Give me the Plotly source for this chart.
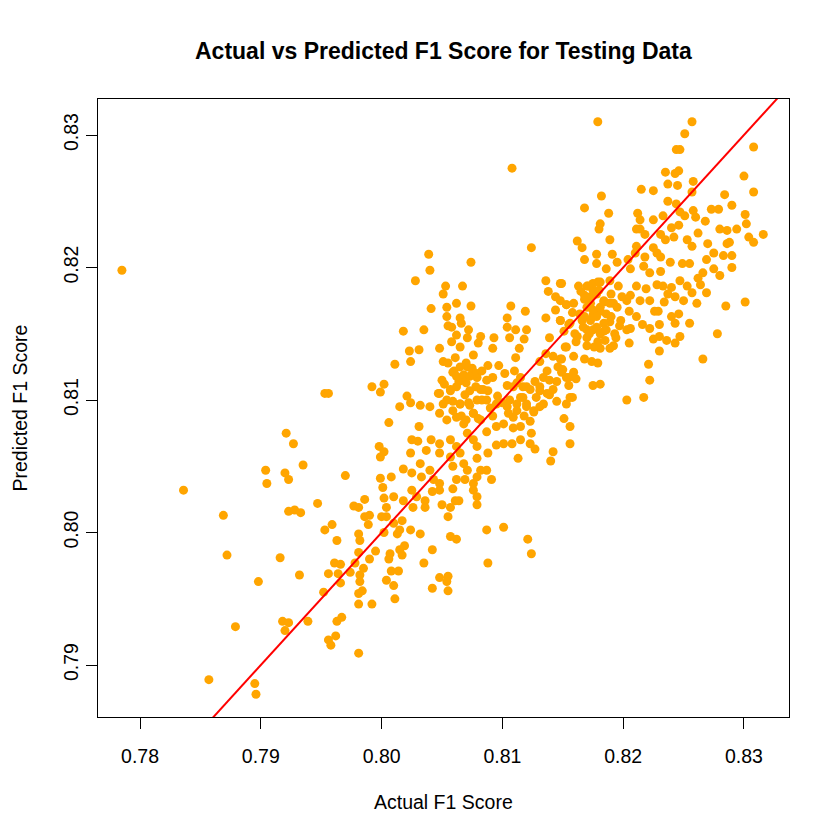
"""
Actual vs predicted F1 score (testing data) - scatter with y = x reference line
"""
import plotly.graph_objects as go

# lower-left sparse points and a few outliers
actual_sparse = [0.7921, 0.7927, 0.7935, 0.7904, 0.7920, 0.7923, 0.7905, 0.7970, 0.7836, 0.7869,
                 0.7923, 0.7928, 0.7933, 0.7947, 0.7959, 0.7953, 0.7963, 0.7872, 0.7916, 0.7932,
                 0.7898, 0.7961, 0.7966, 0.7956, 0.7964, 0.7966, 0.7952, 0.7879, 0.7918, 0.7923,
                 0.7920, 0.7939, 0.7963, 0.7967, 0.7956, 0.7962, 0.7958, 0.7857, 0.7895, 0.7896,
                 0.7785, 0.8108, 0.7953, 0.7956]
predicted_sparse = [0.8075, 0.8067, 0.8051, 0.8047, 0.8045, 0.8040, 0.8037, 0.8043, 0.8032, 0.8013,
                    0.8016, 0.8017, 0.8015, 0.8022, 0.8006, 0.8002, 0.7994, 0.7983, 0.7981, 0.7968,
                    0.7963, 0.7977, 0.7976, 0.7969, 0.7969, 0.7962, 0.7955, 0.7929, 0.7933, 0.7932,
                    0.7926, 0.7933, 0.7933, 0.7936, 0.7919, 0.7922, 0.7915, 0.7889, 0.7886, 0.7878,
                    0.8198, 0.8275, 0.8105, 0.8105]

# lower middle cloud
actual_low = [0.8015, 0.8024, 0.8032, 0.8040, 0.8051, 0.8059, 0.8065, 0.8073, 0.8079, 0.8087,
              0.8095, 0.8104, 0.8112, 0.8120, 0.8126, 0.8131, 0.8145, 0.8153, 0.8006, 0.8031,
              0.8048, 0.8054, 0.8062, 0.8068, 0.8076, 0.8082, 0.8087, 0.8095, 0.8101, 0.8109,
              0.8115, 0.8123, 0.8124, 0.8151, 0.8156,
              0.8025, 0.8030, 0.8041, 0.8048, 0.8057, 0.8062, 0.8071, 0.8076, 0.8079, 0.8095,
              0.8101, 0.8108, 0.8115, 0.8123, 0.8127, 0.7998, 0.8002, 0.7999, 0.8024, 0.8037,
              0.8048, 0.8057, 0.8065, 0.8068, 0.8079, 0.8088, 0.8113, 0.8142, 0.8140, 0.8156,
              0.8018, 0.7999, 0.8008, 0.8025, 0.8033, 0.8040, 0.8032, 0.8043, 0.8048, 0.8059,
              0.8071, 0.8062, 0.8069, 0.8082, 0.8087, 0.8091, 0.8076, 0.8079, 0.8001, 0.8010,
              0.8002, 0.8018, 0.8025, 0.8029, 0.8036, 0.8042, 0.8048, 0.8059, 0.8061, 0.8076,
              0.8079,
              0.7986, 0.7977, 0.7981, 0.8004, 0.8026, 0.8036, 0.8050, 0.8057, 0.8079, 0.8064,
              0.7986, 0.7990, 0.7989, 0.8004, 0.8000, 0.8010, 0.8017, 0.8015, 0.8024, 0.8055,
              0.8013, 0.8002, 0.7981, 0.7982, 0.8032, 0.8057, 0.8062, 0.8087, 0.8101, 0.8121,
              0.8124,
              0.7995, 0.7981, 0.7990, 0.8007, 0.8006, 0.8015, 0.8019, 0.8017, 0.8042, 0.8035,
              0.8088, 0.7974, 0.7978, 0.7985, 0.8008, 0.8014, 0.8004, 0.8010,
              0.7982, 0.7982, 0.7984, 0.7981, 0.8048, 0.8055, 0.8054, 0.8042, 0.8055, 0.8011,
              0.7981, 0.7992, 0.7981]
predicted_low = [0.8095, 0.8098, 0.8096, 0.8095, 0.8097, 0.8099, 0.8097, 0.8096, 0.8100, 0.8100,
                 0.8097, 0.8095, 0.8097, 0.8095, 0.8091, 0.8095, 0.8099, 0.8097, 0.8083, 0.8080,
                 0.8090, 0.8085, 0.8087, 0.8082, 0.8090, 0.8085, 0.8076, 0.8080, 0.8082, 0.8087,
                 0.8080, 0.8084, 0.8075, 0.8086, 0.8080,
                 0.8070, 0.8069, 0.8070, 0.8067, 0.8070, 0.8065, 0.8075, 0.8070, 0.8065, 0.8066,
                 0.8067, 0.8067, 0.8070, 0.8067, 0.8063, 0.8065, 0.8061, 0.8057, 0.8060, 0.8062,
                 0.8060, 0.8057, 0.8060, 0.8052, 0.8056, 0.8060, 0.8056, 0.8061, 0.8054, 0.8067,
                 0.8048, 0.8041, 0.8042, 0.8045, 0.8042, 0.8047, 0.8052, 0.8040, 0.8037, 0.8050,
                 0.8047, 0.8040, 0.8040, 0.8047, 0.8047, 0.8040, 0.8037, 0.8042, 0.8034, 0.8027,
                 0.8026, 0.8024, 0.8032, 0.8027, 0.8024, 0.8031, 0.8032, 0.8033, 0.8024, 0.8032,
                 0.8027,
                 0.8025, 0.8020, 0.8019, 0.8019, 0.8019, 0.8019, 0.8021, 0.8019, 0.8021, 0.8024,
                 0.8012, 0.8013, 0.8006, 0.8012, 0.8012, 0.8007, 0.8009, 0.8002, 0.8002, 0.8012,
                 0.7999, 0.8000, 0.7999, 0.7994, 0.7999, 0.7997, 0.7995, 0.8002, 0.8004, 0.7995,
                 0.7984,
                 0.7986, 0.7985, 0.7980, 0.7984, 0.7980, 0.7987, 0.7990, 0.7983, 0.7987, 0.7977,
                 0.7977, 0.7970, 0.7977, 0.7973, 0.7971, 0.7971, 0.7964, 0.7960,
                 0.7968, 0.7963, 0.7956, 0.7954, 0.7966, 0.7967, 0.7963, 0.7958, 0.7956, 0.7950,
                 0.7946, 0.7946, 0.7909]

# upper middle cloud
actual_mid = [0.8124, 0.8039, 0.8074, 0.8040, 0.8028, 0.8053, 0.8067, 0.8051, 0.8136, 0.8138,
              0.8148, 0.8144, 0.8148, 0.8153, 0.8041, 0.8054, 0.8062, 0.8074, 0.8107, 0.8119,
              0.8144, 0.8136, 0.8148, 0.8155, 0.8054, 0.8055, 0.8065, 0.8066, 0.8058, 0.8018,
              0.8035, 0.8104, 0.8104, 0.8111, 0.8120, 0.8106, 0.8118, 0.8139, 0.8072, 0.8062,
              0.8071, 0.8082, 0.8080, 0.8093, 0.8058, 0.8065, 0.8048, 0.8023, 0.8031, 0.8092,
              0.8114, 0.8152, 0.8136, 0.8142, 0.8148, 0.8011, 0.8024, 0.8076, 0.8051, 0.8061,
              0.8071, 0.8075, 0.8068, 0.8065, 0.8079, 0.8059, 0.8088, 0.8097, 0.8111, 0.8102,
              0.8092, 0.8110, 0.8115, 0.8131, 0.8137, 0.8149, 0.8127, 0.8134, 0.8145, 0.8153,
              0.7992, 0.8002, 0.7999, 0.8050, 0.8047, 0.8057, 0.8062, 0.8073, 0.8082, 0.8088,
              0.8104, 0.8109, 0.8120, 0.8117, 0.8131, 0.8139, 0.8156, 0.8021]
predicted_mid = [0.8215, 0.8210, 0.8204, 0.8198, 0.8190, 0.8186, 0.8186, 0.8180, 0.8190, 0.8182,
                 0.8188, 0.8178, 0.8175, 0.8172, 0.8169, 0.8170, 0.8173, 0.8171, 0.8171, 0.8167,
                 0.8168, 0.8162, 0.8160, 0.8157, 0.8163, 0.8156, 0.8162, 0.8158, 0.8155, 0.8152,
                 0.8153, 0.8162, 0.8155, 0.8153, 0.8153, 0.8147, 0.8146, 0.8147, 0.8153, 0.8149,
                 0.8147, 0.8148, 0.8143, 0.8147, 0.8144, 0.8140, 0.8139, 0.8137, 0.8138, 0.8139,
                 0.8139, 0.8140, 0.8135, 0.8133, 0.8131, 0.8127, 0.8129, 0.8134, 0.8129, 0.8132,
                 0.8125, 0.8120, 0.8117, 0.8115, 0.8117, 0.8121, 0.8126, 0.8126, 0.8132, 0.8120,
                 0.8117, 0.8122, 0.8117, 0.8129, 0.8122, 0.8121, 0.8114, 0.8117, 0.8114, 0.8117,
                 0.8110, 0.8112, 0.8106, 0.8115, 0.8105, 0.8107, 0.8110, 0.8107, 0.8108, 0.8107,
                 0.8111, 0.8110, 0.8110, 0.8102, 0.8107, 0.8104, 0.8102, 0.8103]

# upper right cloud
actual_high = [0.8179, 0.8257, 0.8251, 0.8244, 0.8247, 0.8308, 0.8235, 0.8246, 0.8243, 0.8245,
               0.8237, 0.8258, 0.8257, 0.8215, 0.8225, 0.8182, 0.8300, 0.8308, 0.8284, 0.8168,
               0.8188, 0.8212, 0.8214, 0.8225, 0.8233, 0.8237, 0.8244, 0.8251, 0.8247, 0.8258,
               0.8260, 0.8268, 0.8273, 0.8279, 0.8290, 0.8301, 0.8302, 0.8280, 0.8286, 0.8294,
               0.8316, 0.8181, 0.8180, 0.8211, 0.8214, 0.8240, 0.8246, 0.8231, 0.8235, 0.8242,
               0.8253, 0.8257, 0.8286, 0.8288, 0.8304, 0.8308, 0.8189, 0.8162, 0.8166, 0.8211,
               0.8210, 0.8228, 0.8231, 0.8239, 0.8255, 0.8269, 0.8275, 0.8283, 0.8290, 0.8290,
               0.8168, 0.8178, 0.8191, 0.8178, 0.8186, 0.8195, 0.8204, 0.8206, 0.8218, 0.8217,
               0.8222, 0.8231, 0.8247, 0.8266, 0.8275, 0.8280, 0.8149, 0.8163, 0.8171, 0.8175,
               0.8179, 0.8189, 0.8196, 0.8211, 0.8219, 0.8228, 0.8233, 0.8240, 0.8253, 0.8264,
               0.8269, 0.8257, 0.8168, 0.8206]
predicted_high = [0.8310, 0.8310, 0.8301, 0.8289, 0.8289, 0.8291, 0.8272, 0.8273, 0.8271, 0.8262,
                  0.8263, 0.8265, 0.8257, 0.8259, 0.8258, 0.8254, 0.8269, 0.8257, 0.8255, 0.8245,
                  0.8241, 0.8241, 0.8236, 0.8236, 0.8239, 0.8250, 0.8248, 0.8239, 0.8242, 0.8243,
                  0.8238, 0.8235, 0.8244, 0.8244, 0.8247, 0.8240, 0.8233, 0.8229, 0.8228, 0.8229,
                  0.8225, 0.8233, 0.8229, 0.8229, 0.8229, 0.8230, 0.8232, 0.8225, 0.8221, 0.8223,
                  0.8221, 0.8216, 0.8218, 0.8219, 0.8223, 0.8219, 0.8221, 0.8220, 0.8215, 0.8216,
                  0.8211, 0.8211, 0.8208, 0.8204, 0.8203, 0.8206, 0.8211, 0.8209, 0.8209, 0.8200,
                  0.8206, 0.8210, 0.8210, 0.8203, 0.8199, 0.8204, 0.8206, 0.8199, 0.8208, 0.8201,
                  0.8196, 0.8197, 0.8190, 0.8196, 0.8199, 0.8194, 0.8188, 0.8186, 0.8186, 0.8183,
                  0.8189, 0.8190, 0.8186, 0.8186, 0.8184, 0.8187, 0.8186, 0.8185, 0.8186, 0.8187,
                  0.8181, 0.8181, 0.8179, 0.8179]

# right cloud, below the upper right group
actual_right = [0.8159, 0.8153, 0.8173, 0.8184, 0.8192, 0.8203, 0.8214, 0.8234, 0.8243, 0.8250,
                0.8261, 0.8285, 0.8301, 0.8211, 0.8226, 0.8229, 0.8240, 0.8246, 0.8243, 0.8255,
                0.8148, 0.8156, 0.8168, 0.8175, 0.8181, 0.8189, 0.8197, 0.8203, 0.8206, 0.8216,
                0.8222, 0.8230, 0.8278, 0.8151, 0.8160, 0.8170, 0.8178, 0.8184, 0.8193, 0.8225,
                0.8230, 0.8236, 0.8243, 0.8247, 0.8205, 0.8153, 0.8161, 0.8170, 0.8179, 0.8181,
                0.8189, 0.8192, 0.8230, 0.8266, 0.8149, 0.8159, 0.8168, 0.8174, 0.8179, 0.8221,
                0.8150, 0.8159, 0.8161, 0.8155, 0.8222, 0.8175, 0.8181, 0.8155, 0.8203, 0.8217,
                0.8158]
predicted_right = [0.8173, 0.8172, 0.8173, 0.8174, 0.8173, 0.8175, 0.8175, 0.8174, 0.8178, 0.8175,
                   0.8173, 0.8171, 0.8174, 0.8163, 0.8167, 0.8167, 0.8163, 0.8165, 0.8158, 0.8158,
                   0.8160, 0.8158, 0.8163, 0.8164, 0.8167, 0.8159, 0.8156, 0.8153, 0.8154, 0.8157,
                   0.8154, 0.8157, 0.8150, 0.8152, 0.8150, 0.8153, 0.8155, 0.8152, 0.8150, 0.8146,
                   0.8148, 0.8145, 0.8143, 0.8148, 0.8143, 0.8140, 0.8144, 0.8141, 0.8144, 0.8139,
                   0.8139, 0.8141, 0.8137, 0.8131, 0.8131, 0.8133, 0.8131, 0.8129, 0.8128, 0.8127,
                   0.8123, 0.8121, 0.8116, 0.8117, 0.8115, 0.8111, 0.8112, 0.8111, 0.8100, 0.8102,
                   0.8102]

# the two dense cores (points that overlap heavily)
actual_core = [0.8065, 0.8070, 0.8075, 0.8068, 0.8073, 0.8079, 0.8064, 0.8070, 0.8112, 0.8117,
               0.8123, 0.8128, 0.8115, 0.8120, 0.8126, 0.8112, 0.8106, 0.8131, 0.8137, 0.8139,
               0.8048, 0.8054, 0.8059, 0.8065, 0.8070, 0.8076, 0.8084, 0.8057,
               0.8170, 0.8175, 0.8181, 0.8173, 0.8178, 0.8184, 0.8170, 0.8175, 0.8181, 0.8186,
               0.8173, 0.8178, 0.8184, 0.8175, 0.8181, 0.8170, 0.8186, 0.8189, 0.8164, 0.8167,
               0.8055, 0.8060, 0.8083, 0.8087, 0.8078, 0.8069, 0.8083, 0.8090, 0.8062, 0.8052,
               0.8096, 0.8100, 0.8072, 0.8066, 0.8080, 0.8092,
               0.8105, 0.8118, 0.8109, 0.8134, 0.8142, 0.8146,
               0.8165, 0.8168, 0.8180, 0.8190, 0.8195, 0.8190, 0.8198, 0.8166, 0.8172, 0.8185,
               0.8194, 0.8199, 0.8205, 0.8158, 0.8162, 0.8176,
               0.8218, 0.8225, 0.8262, 0.8270, 0.8222, 0.8237, 0.8262, 0.8249]
predicted_core = [0.8125, 0.8128, 0.8124, 0.8119, 0.8118, 0.8120, 0.8114, 0.8113, 0.8113, 0.8110,
                  0.8108, 0.8102, 0.8102, 0.8097, 0.8092, 0.8092, 0.8100, 0.8110, 0.8105, 0.8115,
                  0.8105, 0.8100, 0.8092, 0.8097, 0.8085, 0.8090, 0.8108, 0.8108,
                  0.8186, 0.8188, 0.8189, 0.8178, 0.8180, 0.8175, 0.8170, 0.8168, 0.8170, 0.8165,
                  0.8160, 0.8163, 0.8158, 0.8153, 0.8150, 0.8147, 0.8153, 0.8173, 0.8165, 0.8155,
                  0.8128, 0.8122, 0.8122, 0.8115, 0.8110, 0.8104, 0.8100, 0.8094, 0.8118, 0.8112,
                  0.8103, 0.8098, 0.8098, 0.8088, 0.8086, 0.8088,
                  0.8090, 0.8088, 0.8079, 0.8097, 0.8108, 0.8125,
                  0.8182, 0.8176, 0.8183, 0.8180, 0.8170, 0.8163, 0.8160, 0.8160, 0.8150, 0.8145,
                  0.8147, 0.8178, 0.8167, 0.8166, 0.8148, 0.8140,
                  0.8225, 0.8215, 0.8226, 0.8218, 0.8175, 0.8180, 0.8192, 0.8203]

# reference line y = x
line_x = [0.77, 0.84]
line_y = [0.77, 0.84]

x_ticks = [0.78, 0.79, 0.80, 0.81, 0.82, 0.83]
y_ticks = [0.79, 0.80, 0.81, 0.82, 0.83]

actual = actual_sparse + actual_low + actual_mid + actual_high + actual_right + actual_core
predicted = predicted_sparse + predicted_low + predicted_mid + predicted_high + predicted_right + predicted_core

font = "Liberation Sans, Arial, sans-serif"

fig = go.Figure()
fig.add_trace(go.Scatter(x=actual, y=predicted, mode="markers",
                         marker=dict(color="#FFA500", size=9, line=dict(width=0)),
                         showlegend=False, hoverinfo="x+y"))
fig.add_trace(go.Scatter(x=line_x, y=line_y, mode="lines",
                         line=dict(color="#FF0000", width=2), showlegend=False, hoverinfo="skip"))

axis_common = dict(showgrid=False, zeroline=False, showline=True, linecolor="black", linewidth=1,
                   mirror=True, ticks="outside", ticklen=11, tickcolor="black", tickwidth=1,
                   tickformat=".2f", tickfont=dict(family=font, size=19.5, color="black"))

fig.update_xaxes(range=[0.77652, 0.83373], tickvals=x_ticks, ticklabelstandoff=11, **axis_common)
fig.update_yaxes(range=[0.78608, 0.83272], tickvals=y_ticks, tickangle=-90, ticklabelstandoff=0,
                 **axis_common)

# page body adds an 8px margin, so the figure is 832 px and margins are shifted by 8
fig.update_layout(
    width=832, height=832,
    margin=dict(l=90, r=51, t=91, b=123),
    plot_bgcolor="white", paper_bgcolor="white",
    annotations=[
        dict(text="<b>Actual vs Predicted F1 Score for Testing Data</b>", x=0.5, y=1.0777,
             xref="paper", yref="paper", xanchor="center", yanchor="middle", showarrow=False,
             font=dict(family=font, size=23, color="black")),
        dict(text="Actual F1 Score", x=0.5, y=-0.1375, xref="paper", yref="paper",
             xanchor="center", yanchor="middle", showarrow=False,
             font=dict(family=font, size=19.5, color="black")),
        dict(text="Predicted F1 Score", x=-0.1136, y=0.5, xref="paper", yref="paper",
             xanchor="center", yanchor="middle", showarrow=False, textangle=-90,
             font=dict(family=font, size=19.5, color="black")),
    ],
)

fig.write_html("out.html")
